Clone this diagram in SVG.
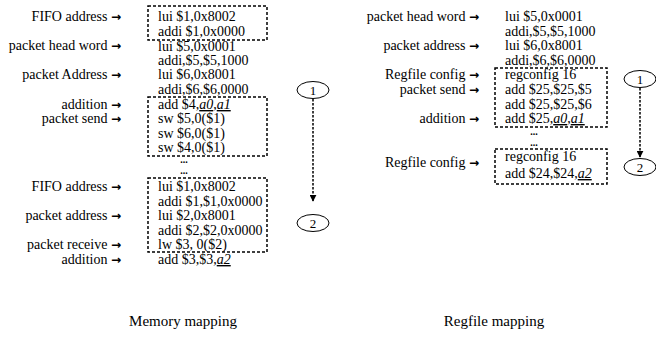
<svg xmlns="http://www.w3.org/2000/svg" width="656" height="352" viewBox="0 0 656 352">
<defs>
<style>
text{font-family:"Liberation Serif","Times New Roman",serif;font-size:14px;fill:#000}
.lbl{text-anchor:end}
.ar{font-family:"DejaVu Sans",sans-serif;font-size:12px;font-weight:bold}
.cap{font-size:15px;text-anchor:middle}
.num{text-anchor:middle;font-size:13px}
.dots{text-anchor:middle;font-size:10px;font-weight:bold}
.box{fill:none;stroke:#000;stroke-width:1.5;stroke-dasharray:3 2}
.flow{fill:none;stroke:#000;stroke-width:1.5;stroke-dasharray:2.5 1.5}
.oval{fill:#fff;stroke:#000;stroke-width:1}
.ul{font-style:italic;text-decoration:underline}
</style>
<marker id="ah" viewBox="0 0 10 10" refX="9" refY="5" markerWidth="7" markerHeight="7" orient="auto" markerUnits="userSpaceOnUse">
<path d="M0,0 L10,5 L0,10 z" fill="#000"/>
</marker>
</defs>
<rect width="656" height="352" fill="#fff"/>

<g id="memory-mapping">
<g id="mem-labels">
<text class="lbl" x="121" y="21">FIFO address <tspan class="ar">→</tspan></text>
<text class="lbl" x="121" y="50">packet head word <tspan class="ar">→</tspan></text>
<text class="lbl" x="121" y="79">packet Address <tspan class="ar">→</tspan></text>
<text class="lbl" x="121" y="109">addition <tspan class="ar">→</tspan></text>
<text class="lbl" x="121" y="123">packet send <tspan class="ar">→</tspan></text>
<text class="lbl" x="121" y="191">FIFO address <tspan class="ar">→</tspan></text>
<text class="lbl" x="121" y="220">packet address <tspan class="ar">→</tspan></text>
<text class="lbl" x="121" y="249">packet receive <tspan class="ar">→</tspan></text>
<text class="lbl" x="121" y="264">addition <tspan class="ar">→</tspan></text>
</g>
<g id="mem-box1">
<rect class="box" x="148" y="6" width="119" height="34"/>
<text x="158" y="21">lui $1,0x8002</text>
<text x="158" y="36">addi $1,0x0000</text>
</g>
<g id="mem-code">
<text x="158" y="51">lui $5,0x0001</text>
<text x="158" y="65">addi,$5,$5,1000</text>
<text x="158" y="79">lui $6,0x8001</text>
<text x="158" y="94">addi,$6,$6,0000</text>
</g>
<g id="mem-box2">
<rect class="box" x="148" y="97" width="119" height="59"/>
<text x="158" y="109">add $4,<tspan class="ul">a0</tspan>,<tspan class="ul">a1</tspan></text>
<text x="158" y="123">sw $5,0($1)</text>
<text x="158" y="138">sw $6,0($1)</text>
<text x="158" y="152">sw $4,0($1)</text>
</g>
<g id="mem-dots">
<text class="dots" x="184" y="163">...</text>
<text class="dots" x="184" y="174">...</text>
</g>
<g id="mem-box3">
<rect class="box" x="148" y="178" width="119" height="74"/>
<text x="158" y="191">lui $1,0x8002</text>
<text x="158" y="206">addi $1,$1,0x0000</text>
<text x="158" y="220">lui $2,0x8001</text>
<text x="158" y="235">addi $2,$2,0x0000</text>
<text x="158" y="249">lw $3, 0($2)</text>
</g>
<g id="mem-last">
<text x="158" y="264">add $3,$3,<tspan class="ul">a2</tspan></text>
</g>
<g id="mem-step1">
<ellipse class="oval" cx="313" cy="90" rx="16" ry="8.5"/>
<text class="num" x="313" y="95">1</text>
</g>
<g id="mem-step2">
<ellipse class="oval" cx="313" cy="223" rx="16" ry="8.5"/>
<text class="num" x="313" y="228">2</text>
</g>
<text class="cap" x="183" y="326">Memory mapping</text>
</g>

<g id="regfile-mapping">
<g id="reg-labels">
<text class="lbl" x="479" y="21">packet head word <tspan class="ar">→</tspan></text>
<text class="lbl" x="479" y="50">packet address <tspan class="ar">→</tspan></text>
<text class="lbl" x="479" y="79">Regfile config <tspan class="ar">→</tspan></text>
<text class="lbl" x="479" y="94">packet send <tspan class="ar">→</tspan></text>
<text class="lbl" x="479" y="123">addition <tspan class="ar">→</tspan></text>
<text class="lbl" x="479" y="167">Regfile config <tspan class="ar">→</tspan></text>
</g>
<g id="reg-code">
<text x="505" y="21">lui $5,0x0001</text>
<text x="505" y="36">addi,$5,$5,1000</text>
<text x="505" y="50">lui $6,0x8001</text>
<text x="505" y="65">addi,$6,$6,0000</text>
</g>
<g id="reg-box1">
<rect class="box" x="495" y="68" width="112" height="59"/>
<text x="505" y="79">regconfig 16</text>
<text x="505" y="94">add $25,$25,$5</text>
<text x="505" y="109">add $25,$25,$6</text>
<text x="505" y="123">add $25,<tspan class="ul">a0</tspan>,<tspan class="ul">a1</tspan></text>
</g>
<g id="reg-dots">
<text class="dots" x="534" y="135">...</text>
<text class="dots" x="534" y="146">...</text>
</g>
<g id="reg-box2">
<rect class="box" x="495" y="149" width="112" height="35"/>
<text x="505" y="161">regconfig 16</text>
<text x="505" y="178">add $24,$24,<tspan class="ul">a2</tspan></text>
</g>
<g id="reg-step1">
<ellipse class="oval" cx="640" cy="79" rx="16" ry="8.5"/>
<text class="num" x="640" y="84">1</text>
</g>
<g id="reg-step2">
<ellipse class="oval" cx="640" cy="167" rx="16" ry="8.5"/>
<text class="num" x="640" y="172">2</text>
</g>
<text class="cap" x="494" y="326">Regfile mapping</text>
</g>

<g id="connectors">
<line class="flow" x1="313" y1="99" x2="313" y2="201" marker-end="url(#ah)"/>
<line class="flow" x1="640" y1="88" x2="640" y2="157" marker-end="url(#ah)"/>
</g>
</svg>
